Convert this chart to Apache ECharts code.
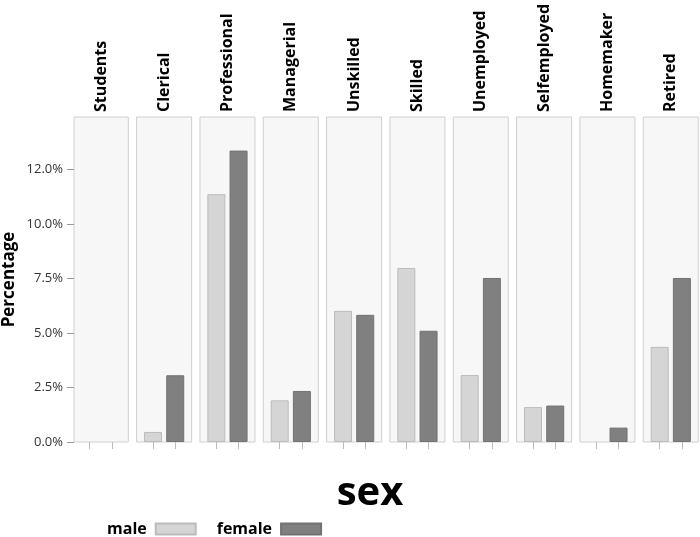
<!DOCTYPE html>
<html><head><meta charset="utf-8">
<script src="https://cdn.jsdelivr.net/npm/echarts@6/dist/echarts.min.js"></script>
<style>html,body{margin:0;padding:0;background:#fff}#c{width:700px;height:537px}</style>
</head><body><div id="c"></div>
<script>
const occupations = ['Students','Clerical','Professional','Managerial','Unskilled','Skilled','Unemployed','Selfemployed','Homemaker','Retired'];
const sexes = ['male','female'];
const maleValues =   [0, 0.46, 11.36, 1.91, 6.01, 7.98, 3.07, 1.60, 0, 4.36];
const femaleValues = [0, 3.06, 13.36, 2.34, 5.83, 5.10, 7.52, 1.67, 0.66, 7.52];
const yTickLabels = ['0.0%','2.5%','5.0%','7.5%','10.0%','12.0%'];
const yMax = 14.9, yStep = 2.5;

const FONT = '"Open Sans", "Noto Sans", sans-serif';
const panelLeft0 = 73.3, panelStep = 63.33, panelW = 55, pad = 5.3;
const panelTop = 117, panelH = 325;
const maleStyle = {color:'#d5d5d5', borderColor:'#bbbbbb', borderWidth:1};
const femaleStyle = {color:'#808080', borderColor:'#727272', borderWidth:1};
const nz = v => (v === 0 ? '-' : v);

const grids = [], xAxes = [], yAxes = [], seriesList = [];
occupations.forEach((occ, i) => {
  const L = panelLeft0 + panelStep * i;
  grids.push({left: L, top: panelTop, width: panelW, height: panelH, show: true,
    backgroundColor: '#f7f7f7', borderColor: '#cfcfcf', borderWidth: 1});
  xAxes.push({type:'category', gridIndex: 2*i, position:'top', data:[occ],
    axisLine:{show:false}, axisTick:{show:false}, splitLine:{show:false},
    axisLabel:{rotate:90, margin:5, fontFamily:FONT, fontWeight:'bold', fontSize:16, color:'#000'}});
  yAxes.push({type:'value', gridIndex: 2*i, min:0, max:yMax, interval:yStep,
    show: i === 0, splitLine:{show:false},
    axisLine:{show:false},
    axisTick:{show:true, length:7, lineStyle:{color:'#999'}},
    axisLabel:{margin:11, fontFamily:FONT, fontSize:13, color:'#333', showMaxLabel:false,
      formatter: (v) => { const k = Math.round(v / yStep); return yTickLabels[k] !== undefined ? yTickLabels[k] : ''; }},
    name: i === 0 ? 'Percentage' : '', nameLocation:'middle', nameGap:56,
    nameTextStyle:{fontFamily:FONT, fontWeight:'bold', fontSize:17, color:'#000'}});
  grids.push({left: L + pad, top: panelTop, width: panelW - 2*pad, height: panelH});
  xAxes.push({type:'category', gridIndex: 2*i+1, data: sexes,
    axisLine:{show:false}, axisLabel:{show:false, interval:0},
    axisTick:{show:true, interval:0, alignWithLabel:true, length:7, lineStyle:{color:'#bbbbbb'}}});
  yAxes.push({type:'value', gridIndex: 2*i+1, min:0, max:yMax, show:false, splitLine:{show:false}});
  seriesList.push({type:'bar', name:'male', xAxisIndex:2*i+1, yAxisIndex:2*i+1,
    barWidth:18, barGap:'-100%', itemStyle: maleStyle, data:[nz(maleValues[i]), '-']});
  seriesList.push({type:'bar', name:'female', xAxisIndex:2*i+1, yAxisIndex:2*i+1,
    barWidth:18, barGap:'-100%', itemStyle: femaleStyle, data:['-', nz(femaleValues[i])]});
});

const chart = echarts.init(document.getElementById('c'), null, {renderer:'canvas'});
chart.setOption({
  animation:false,
  grid: grids, xAxis: xAxes, yAxis: yAxes, series: seriesList,
  legend:{data: sexes, left:102, top:516, icon:'rect', itemWidth:40, itemHeight:11, itemGap:20,
    align:'right', textStyle:{fontFamily:FONT, fontWeight:'bold', fontSize:16, color:'#000', padding:[0,4,0,0]}},
  graphic:[{type:'text', x:370, y:494, style:{text:'sex', font:'bold 40px ' + FONT, fill:'#000',
    textAlign:'center', textVerticalAlign:'middle'}}]
});
</script></body></html>
